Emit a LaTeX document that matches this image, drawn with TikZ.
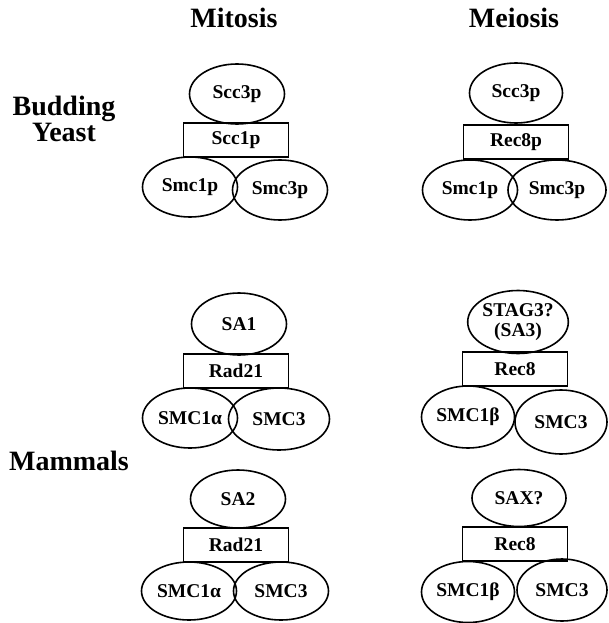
\documentclass[tikz,border=0pt]{standalone}
\usepackage{fontspec}
\setmainfont{Liberation Serif}
\usepackage{tikz}
\usetikzlibrary{shapes.geometric, positioning}

\begin{document}
\begin{tikzpicture}[
            x=1pt, y=-1pt,
            % Style for the subunits (ellipses)
            subunit/.style={ellipse, draw, line width=1.6pt, inner sep=0pt,
                            minimum width=95pt, minimum height=60pt,
                            font=\bfseries\fontsize{19.5}{20}\selectfont, align=center},
            % Style for the kleisin (rectangle)
            kleisin/.style={rectangle, draw, line width=1.6pt, inner sep=0pt,
                            minimum width=105pt, minimum height=34pt,
                            font=\bfseries\fontsize{19.5}{20}\selectfont},
            % Style for the headings
            heading/.style={font=\bfseries\fontsize{28}{26}\selectfont, align=center, inner sep=0pt}
        ]

            \useasboundingbox (0,0) rectangle (608,623);

            % --- Headings ---
            \node[heading, anchor=base] (mitosis) at (234, 28) {Mitosis};
            \node[heading, anchor=base] (meiosis) at (514, 28) {Meiosis};
            \node[heading, anchor=base] (yeast) at (64, 141) {Budding\\Yeast};
            \node[heading, anchor=base] (mammals) at (69, 470) {Mammals};

            % --- Budding yeast, mitosis ---
            \begin{scope}[shift={(236, 140)}]
                \node[subunit] (ymit-top) at (1, -46) {Scc3p};
                \node[kleisin] (ymit-kle) at (0, 0) {Scc1p};
                \node[subunit] (ymit-left) at (-46, 47) {Smc1p};
                \node[subunit] (ymit-right) at (44, 50) {Smc3p};
            \end{scope}

            % --- Budding yeast, meiosis ---
            \begin{scope}[shift={(516, 142)}]
                \node[subunit, minimum width=93pt] (ymei-top) at (0, -49) {Scc3p};
                \node[kleisin] (ymei-kle) at (0, 0) {Rec8p};
                \node[subunit] (ymei-left) at (-46, 48) {Smc1p};
                \node[subunit, minimum width=98pt] (ymei-right) at (41, 48) {Smc3p};
            \end{scope}

            % --- Mammals, mitosis (SA1) ---
            \begin{scope}[shift={(236, 371)}]
                \node[subunit, minimum height=62pt] (mmit1-top) at (3, -47) {SA1};
                \node[kleisin] (mmit1-kle) at (0, 0) {Rad21};
                \node[subunit] (mmit1-left) at (-46, 47) {SMC1α};
                \node[subunit, minimum width=101pt, minimum height=62pt] (mmit1-right) at (43, 48) {SMC3};
            \end{scope}

            % --- Mammals, meiosis (STAG3) ---
            \begin{scope}[shift={(515, 369)}]
                \node[subunit, minimum height=63pt] (mmei1-top) at (3, -47) {STAG3?\\(SA3)};
                \node[kleisin] (mmei1-kle) at (0, 0) {Rec8};
                \node[subunit, minimum width=93pt, minimum height=62pt] (mmei1-left) at (-47, 48) {SMC1β};
                \node[subunit, minimum width=92pt, minimum height=64pt] (mmei1-right) at (46, 53) {SMC3};
            \end{scope}

            % --- Mammals, mitosis (SA2) ---
            \begin{scope}[shift={(236, 545)}]
                \node[subunit, minimum height=58pt] (mmit2-top) at (2, -46) {SA2};
                \node[kleisin] (mmit2-kle) at (0, 0) {Rad21};
                \node[subunit, minimum height=58pt] (mmit2-left) at (-47, 46) {SMC1α};
                \node[subunit, minimum height=58pt] (mmit2-right) at (45, 46) {SMC3};
            \end{scope}

            % --- Mammals, meiosis (SAX) ---
            \begin{scope}[shift={(515, 544)}]
                \node[subunit, minimum width=94pt, minimum height=57pt] (mmei2-top) at (4, -46) {SAX?};
                \node[kleisin] (mmei2-kle) at (0, 0) {Rec8};
                \node[subunit, minimum width=93pt, minimum height=61pt] (mmei2-left) at (-47, 48) {SMC1β};
                \node[subunit, minimum width=90pt, minimum height=62pt] (mmei2-right) at (47, 46) {SMC3};
            \end{scope}

        \end{tikzpicture}
\end{document}
